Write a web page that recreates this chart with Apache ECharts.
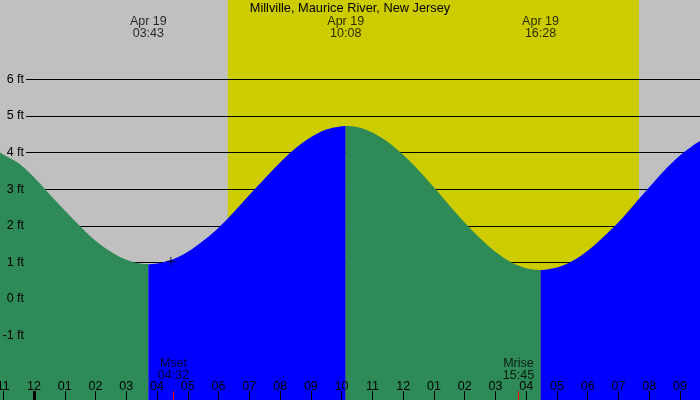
<!DOCTYPE html>
<html>
<head>
<meta charset="utf-8">
<script src="https://cdn.jsdelivr.net/npm/echarts@6/dist/echarts.min.js"></script>
<style>
html,body{margin:0;padding:0;background:#c0c0c0;}
#chart{width:700px;height:400px;}
</style>
</head>
<body>
<div id="chart"></div>
<script>
// ---- data ----
const chartTitle = "Millville, Maurice River, New Jersey";
const dateLabel = "Apr 19";
const tideTimes = ["03:43", "10:08", "16:28"];
const tideHeights = [0.95, 4.73, 0.79];
const sunTimes = ["06:18", "19:40"];
const moonTimes = ["04:32", "15:45"];
const moonLabels = ["Mset", "Mrise"];
const crossTime = ["04:27"];
const crossHeight = [1.03];
const hourTicks = [-1,0,1,2,3,4,5,6,7,8,9,10,11,12,13,14,15,16,17,18,19,20,21];
const hourLabels = ["11","12","01","02","03","04","05","06","07","08","09","10","11","12","01","02","03","04","05","06","07","08","09"];
const yTicks = [-1,0,1,2,3,4,5,6];
const yTickLabels = ["-1 ft","0 ft","1 ft","2 ft","3 ft","4 ft","5 ft","6 ft"];
// water level readings (hours from midnight Apr 19, feet)
const curveHours = [-1.105,-1.0,-0.5,0,0.5,1.0,1.5,2.0,2.5,3.0,3.5,3.717,4.0,4.5,5.0,5.5,6.0,6.5,7.0,7.5,8.0,8.5,9.0,9.5,10.0,10.133,10.5,11.0,11.5,12.0,12.5,13.0,13.5,14.0,14.5,15.0,15.5,16.0,16.467,17.0,17.5,18.0,18.5,19.0,19.5,20.0,20.5,21.0,21.5,21.651];
const curveFeet = [4.00,3.95,3.71,3.33,2.87,2.42,1.99,1.59,1.29,1.07,0.96,0.95,0.97,1.08,1.29,1.59,1.95,2.38,2.84,3.29,3.73,4.12,4.42,4.63,4.72,4.73,4.70,4.55,4.29,3.94,3.52,3.05,2.56,2.09,1.66,1.29,1.01,0.84,0.79,0.86,1.04,1.32,1.69,2.10,2.57,3.05,3.52,3.92,4.24,4.32];

// ---- helpers ----
function toH(s){ const p = s.split(":"); return +p[0] + (+p[1])/60; }
const X_MIN = -1.1053, X_MAX = 21.651;
const Y_MIN = -2.76, Y_MAX = 8.17;
const FONT = "Liberation Sans, Arial, sans-serif";
const FS = 12.5;

const tideH = tideTimes.map(toH);
const bounds = [X_MIN - 1].concat(tideH).concat([X_MAX + 1]);
const fillSeries = [];
for (let s = 0; s < bounds.length - 1; s++) {
  const a = bounds[s], b = bounds[s+1];
  const pts = [];
  for (let i = 0; i < curveHours.length; i++) {
    const t = curveHours[i];
    if (t >= a - 0.01 && t <= b + 0.01) pts.push([t, curveFeet[i]]);
  }
  const endsLow = (s < tideH.length) ? (tideHeights[s] < 2) : (tideHeights[tideH.length-1] > 2);
  const color = endsLow ? "#2e8b57" : "#0000ff";
  fillSeries.push({
    type: "line", xAxisIndex: 0, yAxisIndex: 0, z: 3,
    data: pts, smooth: 0.35, showSymbol: false, silent: true,
    lineStyle: { width: 0, color: color },
    areaStyle: { color: color, opacity: 1, origin: "start" }
  });
}

const gridStart = X_MIN + 26/700 * (X_MAX - X_MIN);
const gridLinesData = yTicks.filter(v => v > 0).map(v => [{coord:[gridStart, v]}, {coord:[X_MAX, v]}]);

const chart = echarts.init(document.getElementById("chart"));
const hiddenLine = { show: false, onZero: false };
const option = {
  animation: false,
  backgroundColor: "#c0c0c0",
  title: {
    text: chartTitle, left: "center", top: 1.5, padding: 0,
    textStyle: { fontFamily: FONT, fontSize: 12.8, fontWeight: "normal", color: "#000" }
  },
  grid: { left: 0, right: 0, top: 0, bottom: 0, containLabel: false, outerBoundsMode: "none" },
  xAxis: [
    { type: "value", min: X_MIN, max: X_MAX, position: "bottom", z: 6,
      splitLine: { show: false }, axisLine: hiddenLine,
      axisTick: { show: true, inside: true, length: 9, customValues: hourTicks, lineStyle: { color: "#000", width: 1 } },
      axisLabel: { show: true, inside: true, margin: 7, customValues: hourTicks,
        formatter: v => hourLabels[hourTicks.indexOf(Math.round(v))],
        fontFamily: FONT, fontSize: FS, color: "#000" } },
    { type: "value", min: X_MIN, max: X_MAX, position: "bottom", z: 7,
      splitLine: { show: false }, axisLine: hiddenLine, axisLabel: { show: false },
      axisTick: { show: true, inside: true, length: 9, customValues: moonTimes.map(toH), lineStyle: { color: "#ff0000", width: 1 } } },
    { type: "value", min: X_MIN, max: X_MAX, position: "bottom", z: 7,
      splitLine: { show: false }, axisLine: hiddenLine, axisLabel: { show: false },
      axisTick: { show: true, inside: true, length: 9, customValues: [0], lineStyle: { color: "#000", width: 3 } } }
  ],
  yAxis: [
    { type: "value", min: Y_MIN, max: Y_MAX, position: "left", z: 6,
      splitLine: { show: false }, axisLine: hiddenLine, axisTick: { show: false },
      axisLabel: { show: true, inside: true, margin: 24, align: "right", customValues: yTicks,
        formatter: v => yTickLabels[yTicks.indexOf(Math.round(v))],
        fontFamily: FONT, fontSize: FS, color: "#000" } }
  ],
  series: [
    { type: "line", z: 1, data: [], silent: true,
      markArea: { silent: true, z: 1, itemStyle: { color: "#cccc00", opacity: 1 },
        data: [[{ xAxis: toH(sunTimes[0]) }, { xAxis: toH(sunTimes[1]) }]] } },
    { type: "line", z: 2, data: [], silent: true,
      markLine: { silent: true, z: 2, symbol: "none", label: { show: false },
        lineStyle: { color: "#000", width: 1, type: "solid" }, data: gridLinesData } }
  ].concat(fillSeries).concat([
    { type: "scatter", z: 4, silent: true, clip: false,
      symbol: "path://M4,0h1v9h-1z M0,4h9v1h-9z", symbolSize: [9, 9],
      itemStyle: { color: "#000" },
      data: crossTime.map((t, i) => [toH(t), crossHeight[i]]) },
    { type: "scatter", z: 5, silent: true, clip: false, symbolSize: 0,
      data: tideTimes.map(t => [toH(t), Y_MAX]),
      label: { show: true, position: "bottom", distance: 16, lineHeight: 12,
        formatter: p => dateLabel + "\n" + tideTimes[p.dataIndex],
        fontFamily: FONT, fontSize: FS, color: "#000" } },
    { type: "scatter", z: 5, silent: true, clip: false, symbolSize: 0,
      data: moonTimes.map(t => [toH(t), Y_MIN]),
      label: { show: true, position: "top", distance: 18, lineHeight: 12,
        formatter: p => moonLabels[p.dataIndex] + "\n" + moonTimes[p.dataIndex],
        fontFamily: FONT, fontSize: FS, color: "#000" } }
  ])
};
chart.setOption(option);
</script>
</body>
</html>
